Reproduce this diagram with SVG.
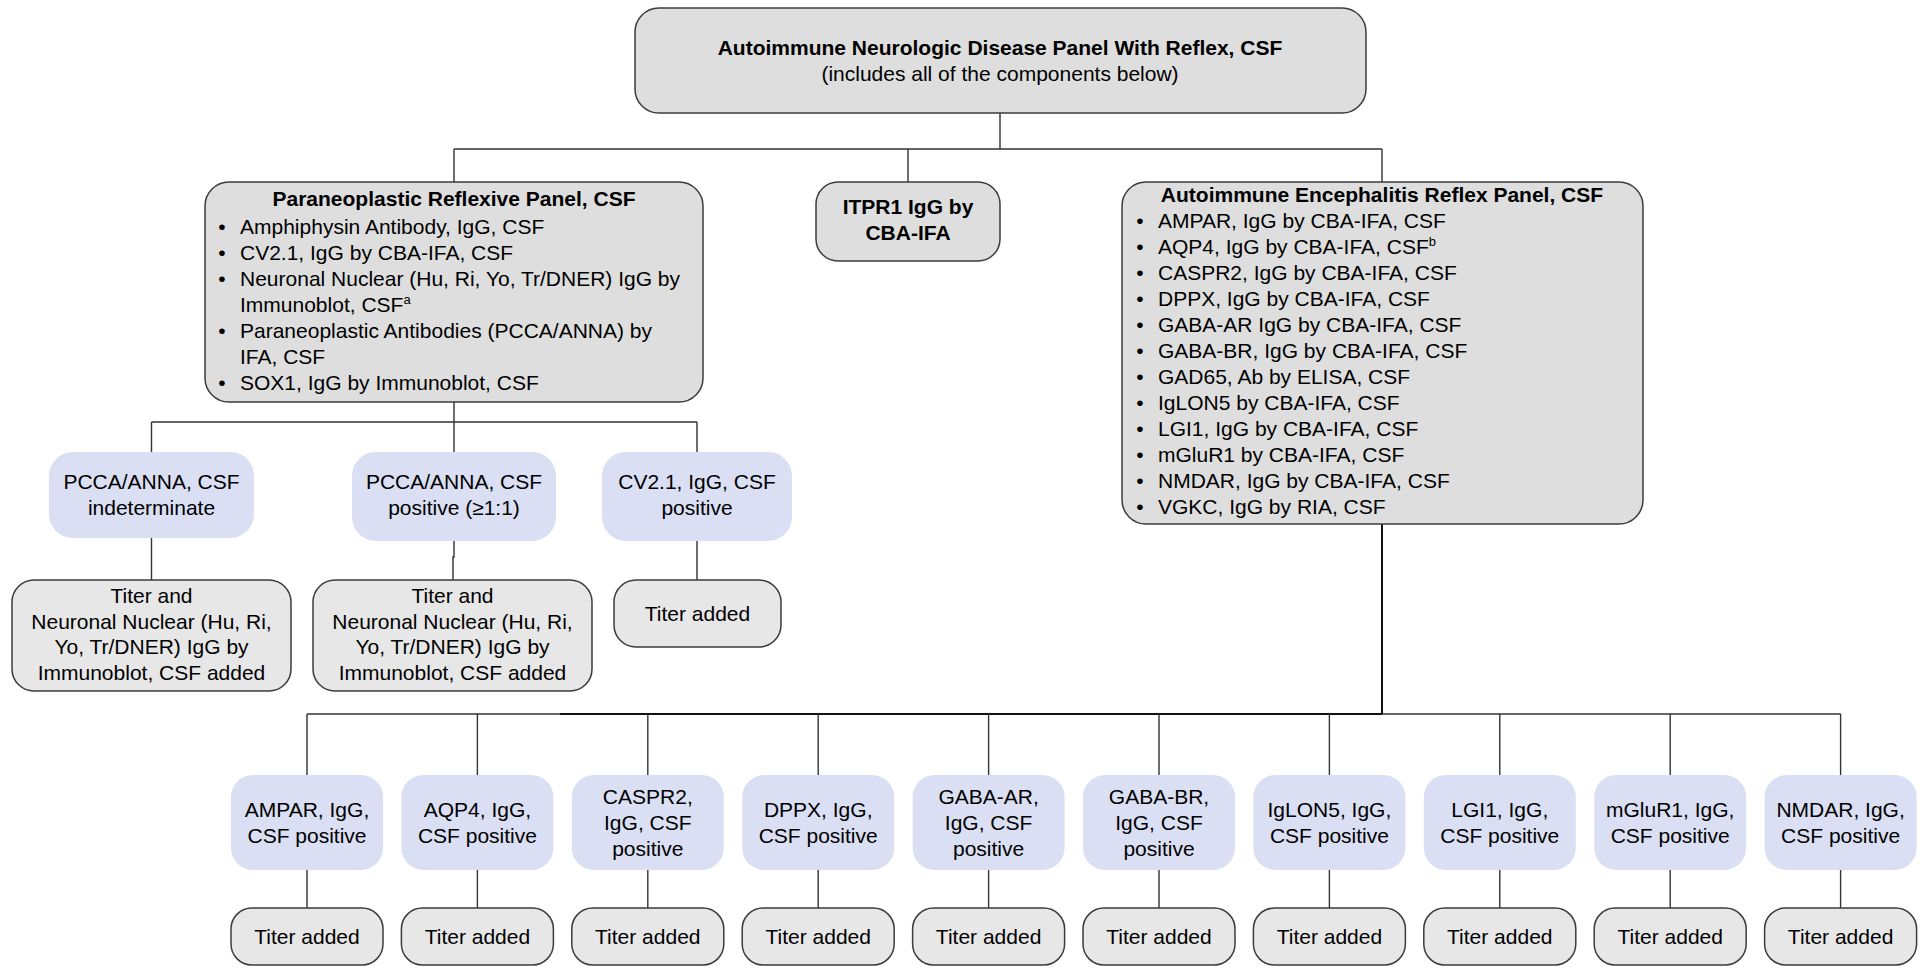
<svg xmlns="http://www.w3.org/2000/svg" width="1925" height="969" viewBox="0 0 1925 969">
<style>
text{font-family:"Liberation Sans",Arial,sans-serif;font-size:21px;fill:#000}
.b{font-weight:bold}
.c{text-anchor:middle}
.panel{fill:#dedede;stroke:#3c3c3c;stroke-width:1.5}
.titer{fill:#e7e7e7;stroke:#3c3c3c;stroke-width:1.5}
.blue{fill:#dadff3;stroke:none}
.ln{fill:none;stroke:#333;stroke-width:1.4}
.thick{stroke:#111;stroke-width:2}
.sup{font-size:13px}
</style>
<rect width="1925" height="969" fill="#fff"/>
<g id="connectors" class="ln">
<path d="M1000,113 V149 M454,149 H1382 M454,149 V182 M908,149 V182 M1382,149 V182"/>
<path d="M454,402 V422 M151.5,422 H697 M151.5,422 V452 M454,422 V452 M697,422 V452"/>
<path d="M151.5,538 V580 M454,541 V557 H453 V580 M697,541 V580"/>
<path d="M307,714 H1840.6"/>
<path class="thick" d="M1382,524 V714 M560,714 H1382"/>
<path d="M307,714 V775 M477.4,714 V775 M647.8,714 V775 M818.2,714 V775 M988.6,714 V775 M1159,714 V775 M1329.4,714 V775 M1499.8,714 V775 M1670.2,714 V775 M1840.6,714 V775"/>
<path d="M307,870 V908 M477.4,870 V908 M647.8,870 V908 M818.2,870 V908 M988.6,870 V908 M1159,870 V908 M1329.4,870 V908 M1499.8,870 V908 M1670.2,870 V908 M1840.6,870 V908"/>
</g>
<g id="top">
<rect class="panel" x="635" y="8" width="731" height="105" rx="24"/>
<text class="b c" x="1000" y="55">Autoimmune Neurologic Disease Panel With Reflex, CSF</text>
<text class="c" x="1000" y="81">(includes all of the components below)</text>
</g>
<g id="paraneoplastic">
<rect class="panel" x="205" y="182" width="498" height="220" rx="24"/>
<text class="b c" x="454" y="206">Paraneoplastic Reflexive Panel, CSF</text>
<text class="c" x="222" y="234">•</text><text x="240" y="234">Amphiphysin Antibody, IgG, CSF</text>
<text class="c" x="222" y="260">•</text><text x="240" y="260">CV2.1, IgG by CBA-IFA, CSF</text>
<text class="c" x="222" y="286">•</text><text x="240" y="286">Neuronal Nuclear (Hu, Ri, Yo, Tr/DNER) IgG by</text>
<text x="240" y="312">Immunoblot, CSF<tspan class="sup" dy="-8">a</tspan></text>
<text class="c" x="222" y="338">•</text><text x="240" y="338">Paraneoplastic Antibodies (PCCA/ANNA) by</text>
<text x="240" y="364">IFA, CSF</text>
<text class="c" x="222" y="390">•</text><text x="240" y="390">SOX1, IgG by Immunoblot, CSF</text>
</g>
<g id="itpr1">
<rect class="panel" x="816" y="182" width="184" height="79" rx="22"/>
<text class="b c" x="908" y="214">ITPR1 IgG by</text>
<text class="b c" x="908" y="240">CBA-IFA</text>
</g>
<g id="encephalitis">
<rect class="panel" x="1122" y="182" width="521" height="342" rx="24"/>
<text class="b c" x="1382" y="202">Autoimmune Encephalitis Reflex Panel, CSF</text>
<text class="c" x="1140" y="228">•</text><text x="1158" y="228">AMPAR, IgG by CBA-IFA, CSF</text>
<text class="c" x="1140" y="254">•</text><text x="1158" y="254">AQP4, IgG by CBA-IFA, CSF<tspan class="sup" dy="-8">b</tspan></text>
<text class="c" x="1140" y="280">•</text><text x="1158" y="280">CASPR2, IgG by CBA-IFA, CSF</text>
<text class="c" x="1140" y="306">•</text><text x="1158" y="306">DPPX, IgG by CBA-IFA, CSF</text>
<text class="c" x="1140" y="332">•</text><text x="1158" y="332">GABA-AR IgG by CBA-IFA, CSF</text>
<text class="c" x="1140" y="358">•</text><text x="1158" y="358">GABA-BR, IgG by CBA-IFA, CSF</text>
<text class="c" x="1140" y="384">•</text><text x="1158" y="384">GAD65, Ab by ELISA, CSF</text>
<text class="c" x="1140" y="410">•</text><text x="1158" y="410">IgLON5 by CBA-IFA, CSF</text>
<text class="c" x="1140" y="436">•</text><text x="1158" y="436">LGI1, IgG by CBA-IFA, CSF</text>
<text class="c" x="1140" y="462">•</text><text x="1158" y="462">mGluR1 by CBA-IFA, CSF</text>
<text class="c" x="1140" y="488">•</text><text x="1158" y="488">NMDAR, IgG by CBA-IFA, CSF</text>
<text class="c" x="1140" y="514">•</text><text x="1158" y="514">VGKC, IgG by RIA, CSF</text>
</g>
<g id="pcca-indeterminate">
<rect class="blue" x="49" y="452" width="205" height="86" rx="24"/>
<text class="c" x="151.5" y="489">PCCA/ANNA, CSF</text>
<text class="c" x="151.5" y="515">indeterminate</text>
</g>
<g id="pcca-positive">
<rect class="blue" x="352" y="452" width="204" height="89" rx="24"/>
<text class="c" x="454" y="489">PCCA/ANNA, CSF</text>
<text class="c" x="454" y="515">positive (≥1:1)</text>
</g>
<g id="cv21-positive">
<rect class="blue" x="602" y="452" width="190" height="89" rx="24"/>
<text class="c" x="697" y="489">CV2.1, IgG, CSF</text>
<text class="c" x="697" y="515">positive</text>
</g>
<g id="result-indeterminate">
<rect class="titer" x="12" y="580" width="279" height="111" rx="22"/>
<text class="c" x="151.5" y="603">Titer and</text>
<text class="c" x="151.5" y="629">Neuronal Nuclear (Hu, Ri,</text>
<text class="c" x="151.5" y="654">Yo, Tr/DNER) IgG by</text>
<text class="c" x="151.5" y="680">Immunoblot, CSF added</text>
</g>
<g id="result-positive">
<rect class="titer" x="313" y="580" width="279" height="111" rx="22"/>
<text class="c" x="452.5" y="603">Titer and</text>
<text class="c" x="452.5" y="629">Neuronal Nuclear (Hu, Ri,</text>
<text class="c" x="452.5" y="654">Yo, Tr/DNER) IgG by</text>
<text class="c" x="452.5" y="680">Immunoblot, CSF added</text>
</g>
<g id="result-cv21">
<rect class="titer" x="614" y="580" width="167" height="67" rx="22"/>
<text class="c" x="697.5" y="621">Titer added</text>
</g>
<g id="ampar">
<rect class="blue" x="231" y="775" width="152" height="95" rx="22"/>
<text class="c" x="307" y="817">AMPAR, IgG,</text><text class="c" x="307" y="843">CSF positive</text>
<rect class="titer" x="231" y="908" width="152" height="57" rx="21"/>
<text class="c" x="307" y="944">Titer added</text>
</g>
<g id="aqp4">
<rect class="blue" x="401.4" y="775" width="152" height="95" rx="22"/>
<text class="c" x="477.4" y="817">AQP4, IgG,</text><text class="c" x="477.4" y="843">CSF positive</text>
<rect class="titer" x="401.4" y="908" width="152" height="57" rx="21"/>
<text class="c" x="477.4" y="944">Titer added</text>
</g>
<g id="caspr2">
<rect class="blue" x="571.8" y="775" width="152" height="95" rx="22"/>
<text class="c" x="647.8" y="804">CASPR2,</text><text class="c" x="647.8" y="830">IgG, CSF</text><text class="c" x="647.8" y="856">positive</text>
<rect class="titer" x="571.8" y="908" width="152" height="57" rx="21"/>
<text class="c" x="647.8" y="944">Titer added</text>
</g>
<g id="dppx">
<rect class="blue" x="742.2" y="775" width="152" height="95" rx="22"/>
<text class="c" x="818.2" y="817">DPPX, IgG,</text><text class="c" x="818.2" y="843">CSF positive</text>
<rect class="titer" x="742.2" y="908" width="152" height="57" rx="21"/>
<text class="c" x="818.2" y="944">Titer added</text>
</g>
<g id="gaba-ar">
<rect class="blue" x="912.6" y="775" width="152" height="95" rx="22"/>
<text class="c" x="988.6" y="804">GABA-AR,</text><text class="c" x="988.6" y="830">IgG, CSF</text><text class="c" x="988.6" y="856">positive</text>
<rect class="titer" x="912.6" y="908" width="152" height="57" rx="21"/>
<text class="c" x="988.6" y="944">Titer added</text>
</g>
<g id="gaba-br">
<rect class="blue" x="1083" y="775" width="152" height="95" rx="22"/>
<text class="c" x="1159" y="804">GABA-BR,</text><text class="c" x="1159" y="830">IgG, CSF</text><text class="c" x="1159" y="856">positive</text>
<rect class="titer" x="1083" y="908" width="152" height="57" rx="21"/>
<text class="c" x="1159" y="944">Titer added</text>
</g>
<g id="iglon5">
<rect class="blue" x="1253.4" y="775" width="152" height="95" rx="22"/>
<text class="c" x="1329.4" y="817">IgLON5, IgG,</text><text class="c" x="1329.4" y="843">CSF positive</text>
<rect class="titer" x="1253.4" y="908" width="152" height="57" rx="21"/>
<text class="c" x="1329.4" y="944">Titer added</text>
</g>
<g id="lgi1">
<rect class="blue" x="1423.8" y="775" width="152" height="95" rx="22"/>
<text class="c" x="1499.8" y="817">LGI1, IgG,</text><text class="c" x="1499.8" y="843">CSF positive</text>
<rect class="titer" x="1423.8" y="908" width="152" height="57" rx="21"/>
<text class="c" x="1499.8" y="944">Titer added</text>
</g>
<g id="mglur1">
<rect class="blue" x="1594.2" y="775" width="152" height="95" rx="22"/>
<text class="c" x="1670.2" y="817">mGluR1, IgG,</text><text class="c" x="1670.2" y="843">CSF positive</text>
<rect class="titer" x="1594.2" y="908" width="152" height="57" rx="21"/>
<text class="c" x="1670.2" y="944">Titer added</text>
</g>
<g id="nmdar">
<rect class="blue" x="1764.6" y="775" width="152" height="95" rx="22"/>
<text class="c" x="1840.6" y="817">NMDAR, IgG,</text><text class="c" x="1840.6" y="843">CSF positive</text>
<rect class="titer" x="1764.6" y="908" width="152" height="57" rx="21"/>
<text class="c" x="1840.6" y="944">Titer added</text>
</g>
</svg>
